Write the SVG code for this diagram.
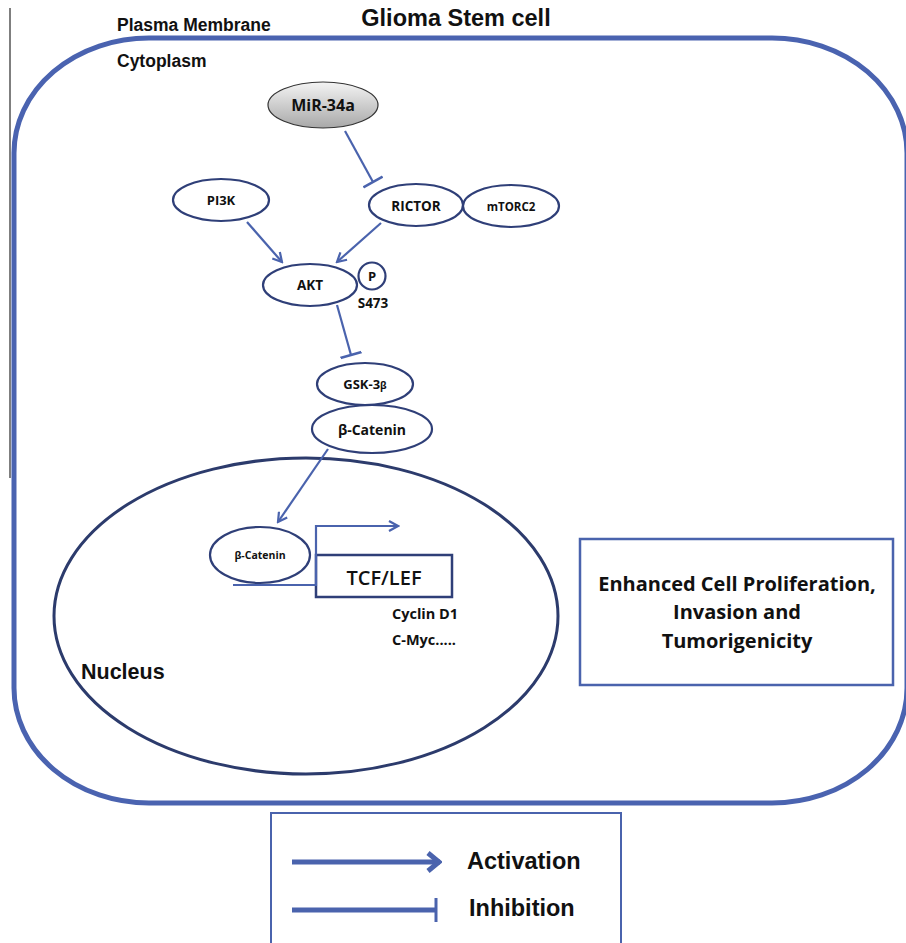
<svg xmlns="http://www.w3.org/2000/svg" width="906" height="943" viewBox="0 0 906 943">
<defs>
<linearGradient id="gray" x1="0" y1="0" x2="0" y2="1">
<stop offset="0" stop-color="#f4f4f4"/><stop offset="1" stop-color="#a8a8a8"/>
</linearGradient>
<marker id="arr" viewBox="0 0 12 12" refX="10" refY="6" markerWidth="12" markerHeight="12" markerUnits="userSpaceOnUse" orient="auto">
<path d="M1,1 L10,6 L1,11" fill="none" stroke="#4a63ad" stroke-width="2.2"/>
</marker>
<marker id="arrBig" viewBox="0 0 16 22" refX="14" refY="11" markerWidth="16" markerHeight="22" markerUnits="userSpaceOnUse" orient="auto">
<path d="M2,2 L13,11 L2,20" fill="none" stroke="#4a63ad" stroke-width="5"/>
</marker>
<marker id="bar" viewBox="0 0 4 22" refX="2" refY="11" markerWidth="4" markerHeight="22" markerUnits="userSpaceOnUse" orient="auto">
<line x1="2" y1="0" x2="2" y2="22" stroke="#4a63ad" stroke-width="2.5"/>
</marker>
</defs>
<style>
.node{fill:#fff;stroke:#2f3f78;stroke-width:2.2}
.lbl{font-family:"Open Sans","Liberation Sans",sans-serif;font-weight:bold;fill:#111;text-anchor:middle}
.lft{text-anchor:start}
.hdr{font-family:"Liberation Sans",Arial,sans-serif;font-weight:bold;fill:#111}
.con{stroke:#4a63ad;stroke-width:2.2;fill:none}
</style>
<rect width="906" height="943" fill="#fff"/>
<line x1="10" y1="8" x2="10" y2="478" stroke="#555" stroke-width="1.5"/>
<g id="cell">
<rect x="14" y="38" width="893" height="765" rx="135" ry="115" fill="none" stroke="#4a63b0" stroke-width="5"/>
</g>
<g id="labels">
<text class="hdr" x="117" y="31" font-size="17.5">Plasma Membrane</text>
<text class="hdr" x="456" y="26" font-size="23.5" text-anchor="middle">Glioma Stem cell</text>
<text class="hdr" x="117" y="67" font-size="17.5">Cytoplasm</text>
</g>
<g id="nucleus">
<ellipse cx="306" cy="616" rx="252" ry="158" fill="none" stroke="#2c3b6c" stroke-width="3"/>
<text class="hdr" x="81" y="679" font-size="21.5">Nucleus</text>
</g>
<g id="mir34a">
<ellipse cx="323" cy="105" rx="55" ry="23" fill="url(#gray)" stroke="#333" stroke-width="1.2"/>
<text class="lbl" x="323" y="111" font-size="16">MiR-34a</text>
</g>
<g id="pi3k">
<ellipse class="node" cx="221" cy="200" rx="48" ry="21"/>
<text class="lbl" x="221" y="205" font-size="13">PI3K</text>
</g>
<g id="rictor">
<ellipse class="node" cx="416" cy="205" rx="47" ry="21"/>
<text class="lbl" x="416" y="211" font-size="13.5">RICTOR</text>
</g>
<g id="mtorc2">
<ellipse class="node" cx="511" cy="206" rx="48" ry="21"/>
<text class="lbl" x="511" y="211" font-size="11.5">mTORC2</text>
</g>
<g id="akt">
<ellipse class="node" cx="310" cy="285" rx="47" ry="21"/>
<text class="lbl" x="310" y="290" font-size="13.5">AKT</text>
<circle class="node" cx="372" cy="276" r="13.5"/>
<text class="lbl" x="372" y="281" font-size="13">P</text>
<text class="lbl" x="373" y="308" font-size="13.5">S473</text>
</g>
<g id="gsk3b">
<ellipse class="node" cx="365" cy="384" rx="48" ry="21"/>
<text class="lbl" x="365" y="389" font-size="13">GSK-3<tspan font-size="10">β</tspan></text>
</g>
<g id="bcatenin">
<ellipse class="node" cx="372" cy="429" rx="60" ry="24"/>
<text class="lbl" x="372" y="435" font-size="14">β-Catenin</text>
</g>
<g id="bcatenin-nuc">
<ellipse class="node" cx="260" cy="555" rx="50" ry="28"/>
<text class="lbl" x="260" y="559" font-size="10.5">β-Catenin</text>
</g>
<g id="tcflef">
<rect x="316" y="555" width="136" height="42" fill="#fff" stroke="#2f3f78" stroke-width="2.5"/>
<text class="lbl" x="384" y="585" font-size="20" style="font-weight:600">TCF/LEF</text>
<text class="lbl lft" x="392" y="619" font-size="14.5">Cyclin D1</text>
<text class="lbl lft" x="392" y="645" font-size="14.5">C-Myc.....</text>
</g>
<g id="outcome">
<rect x="580" y="539" width="313" height="146" fill="#fff" stroke="#4a63ad" stroke-width="2.5"/>
<text class="lbl" x="737" y="591" font-size="20">Enhanced Cell Proliferation,</text>
<text class="lbl" x="737" y="619" font-size="20">Invasion and</text>
<text class="lbl" x="737" y="648" font-size="20">Tumorigenicity</text>
</g>
<g id="connectors">
<line class="con" x1="345" y1="131" x2="373" y2="182" marker-end="url(#bar)"/>
<line class="con" x1="247" y1="222" x2="282" y2="262" marker-end="url(#arr)"/>
<line class="con" x1="381" y1="223" x2="337" y2="262" marker-end="url(#arr)"/>
<line class="con" x1="337" y1="305" x2="351" y2="355" marker-end="url(#bar)"/>
<line class="con" x1="328" y1="449" x2="278" y2="522" marker-end="url(#arr)"/>
<path class="con" d="M233,585 H316 V526 H398" marker-end="url(#arr)"/>
</g>
<g id="legend">
<rect x="271" y="813" width="350" height="140" fill="#fff" stroke="#4a63ad" stroke-width="2"/>
<line x1="292" y1="862" x2="440" y2="862" stroke="#4a63ad" stroke-width="5" marker-end="url(#arrBig)"/>
<text class="hdr" x="467" y="869" font-size="23.5">Activation</text>
<line x1="292" y1="910" x2="436" y2="910" stroke="#4a63ad" stroke-width="5"/>
<line x1="436" y1="898" x2="436" y2="922" stroke="#4a63ad" stroke-width="3"/>
<text class="hdr" x="469" y="916" font-size="23.5">Inhibition</text>
</g>
</svg>
